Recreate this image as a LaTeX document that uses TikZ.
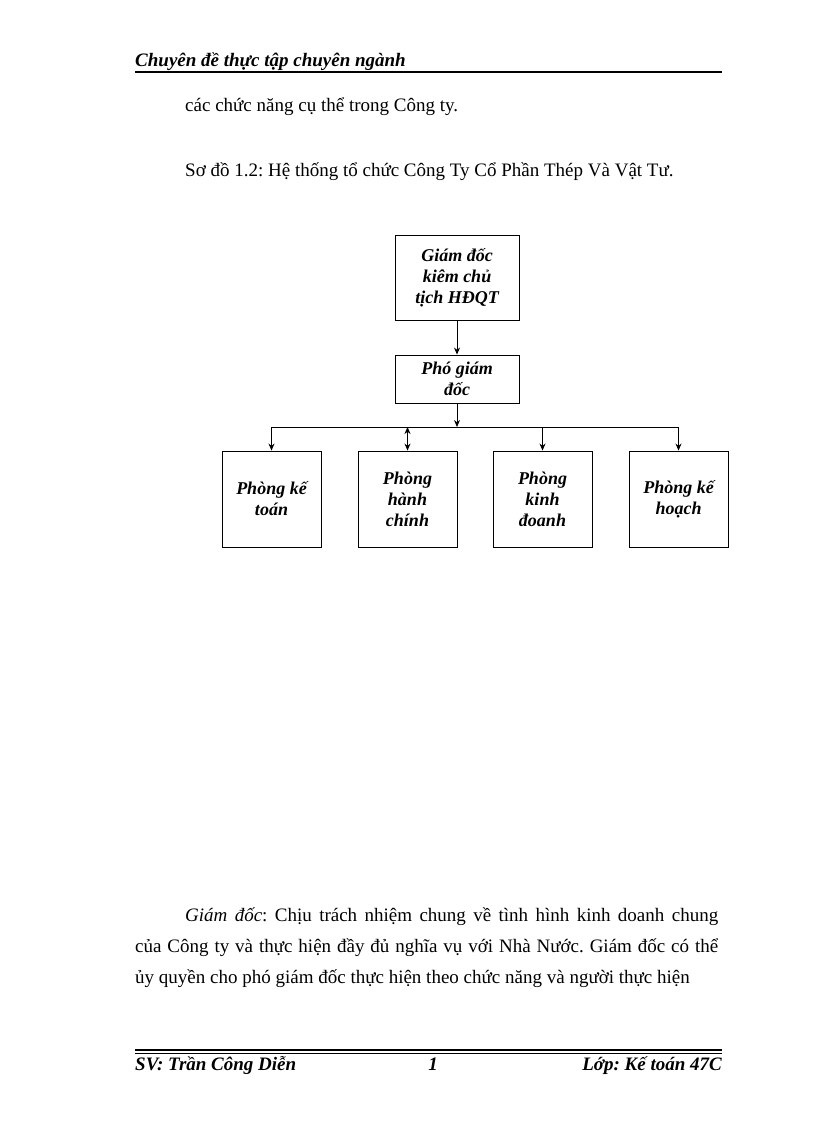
\documentclass[tikz,border=0pt]{standalone}
\usepackage{fontspec}
\setmainfont{Liberation Serif}
\usetikzlibrary{arrows.meta}
\frenchspacing
\begin{document}
\begin{tikzpicture}[x=1pt,y=-1pt,
  box/.style={draw,line width=0.9pt,font=\fontsize{18}{21}\selectfont\bfseries\itshape,align=center,inner sep=0pt},
  body/.style={anchor=base west,inner sep=0pt,font=\fontsize{19}{22}\selectfont},
  bi/.style={body,font=\fontsize{19}{22}\selectfont\bfseries\itshape},
  arr/.style={-{Stealth[length=7pt,width=6pt]},line width=0.9pt}]
\useasboundingbox (0,0) rectangle (816,1123);
% header
\node[bi] (hdr) at (135,67) {Chuyên đề thực tập chuyên ngành};
\draw[line width=1.2pt] (135,72) -- (722,72);
\node[body] (t1) at (185,112) {các chức năng cụ thể trong Công ty.};
\node[body] (t2) at (185,177) {Sơ đồ 1.2: Hệ thống tổ chức Công Ty Cổ Phần Thép Và Vật Tư.};
% diagram
\node[box,minimum width=124pt,minimum height=85pt] (gd) at (457,277.5) {Giám đốc\\kiêm chủ\\tịch HĐQT};
\node[box,minimum width=124pt,minimum height=48pt] (pgd) at (457,379) {Phó giám\\đốc};
\node[box,minimum width=99pt,minimum height=96pt] (b1) at (271.5,499) {Phòng kế\\toán};
\node[box,minimum width=99pt,minimum height=96pt] (b2) at (407.5,499) {Phòng\\hành\\chính};
\node[box,minimum width=99pt,minimum height=96pt] (b3) at (542.5,499) {Phòng\\kinh\\đoanh};
\node[box,minimum width=99pt,minimum height=96pt] (b4) at (678.5,499) {Phòng kế\\hoạch};
\coordinate (j) at (457,427);
\coordinate (jl) at (271.5,427);
\coordinate (jr) at (678.5,427);
\draw[arr] (gd) -- (pgd);
\draw[arr] (pgd) -- (j);
\draw[line width=0.9pt] (jl) -- (jr);
\draw[arr] (jl) -- (b1);
\draw[arr,{Stealth[length=7pt,width=6pt]}-{Stealth[length=7pt,width=6pt]}] (407.5,427) -- (b2);
\draw[arr] (542.5,427) -- (b3);
\draw[arr] (jr) -- (b4);
% paragraph
\node[body] (p1) at (185,921) {\makebox[533pt][s]{\itshape Giám đốc\upshape: Chịu trách nhiệm chung về tình hình kinh doanh chung}};
\node[body] (p2) at (135,952) {\makebox[583pt][s]{của Công ty và thực hiện đầy đủ nghĩa vụ với Nhà Nước. Giám đốc có thể}};
\node[body] (p3) at (135,983) {ủy quyền cho phó giám đốc thực hiện theo chức năng và người thực hiện};
% footer
\draw[line width=1.2pt] (135,1050) -- (722,1050);
\draw[line width=0.6pt] (135,1053.5) -- (722,1053.5);
\node[bi] (f1) at (135,1070) {SV: Trần Công Diễn};
\node[bi,anchor=base] (f2) at (433,1070) {1};
\node[bi,anchor=base east] (f3) at (722,1070) {Lớp: Kế toán 47C};
\end{tikzpicture}
\end{document}
